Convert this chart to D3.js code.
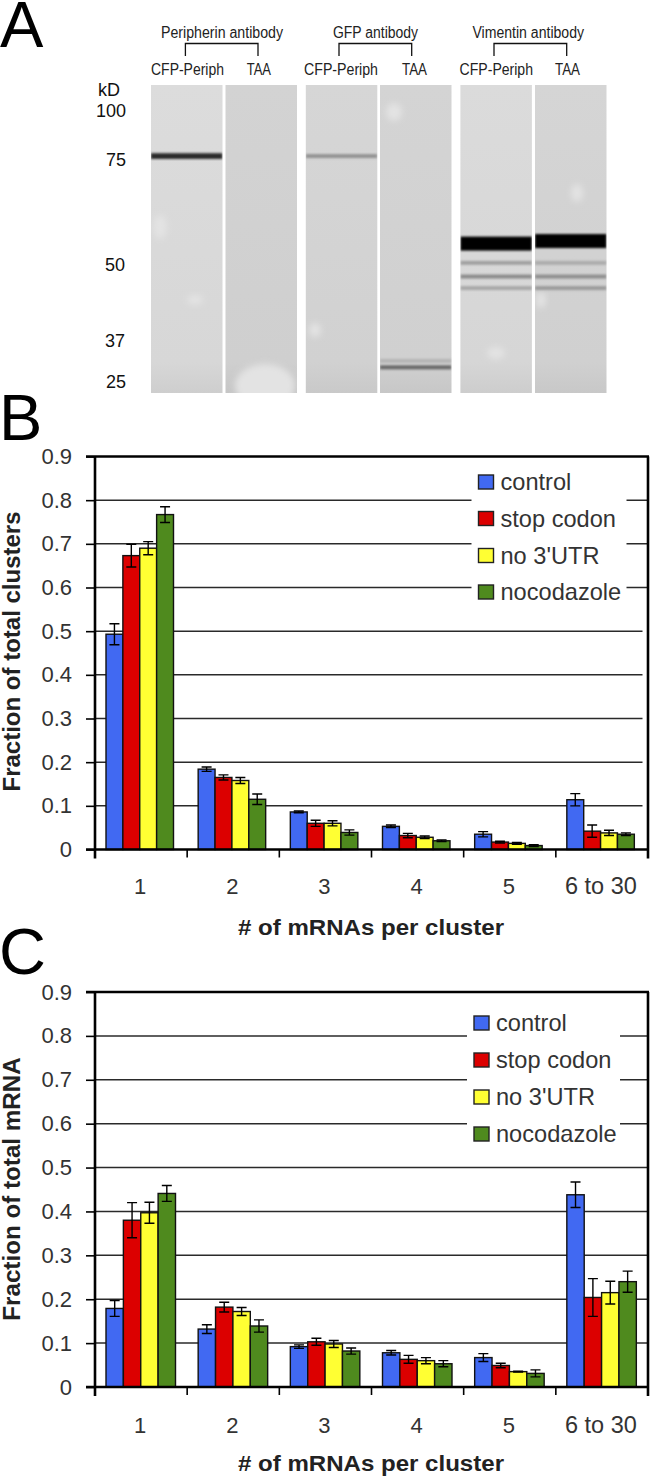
<!DOCTYPE html>
<html><head><meta charset="utf-8">
<script src="https://cdn.jsdelivr.net/npm/d3@7/dist/d3.min.js"></script>
<style>html,body{margin:0;padding:0;background:#fff}svg{display:block}text{font-family:"Liberation Sans",Arial,sans-serif}</style>
</head><body><svg id="c" width="650" height="1477"></svg>
<script>
// ---------- data ----------
const categories = ["1","2","3","4","5","6 to 30"];
const seriesNames = ["control","stop codon","no 3'UTR","nocodazole"];
const yTicks = [0,0.1,0.2,0.3,0.4,0.5,0.6,0.7,0.8,0.9];

const clustersControl    = [0.493,0.184,0.086,0.053,0.035,0.114];
const clustersStop       = [0.673,0.165,0.060,0.032,0.017,0.042];
const clustersNoUTR      = [0.690,0.158,0.060,0.028,0.014,0.038];
const clustersNocodazole = [0.767,0.115,0.039,0.020,0.009,0.035];
const clustersControlErr    = [0.024,0.005,0.002,0.003,0.006,0.014];
const clustersStopErr       = [0.026,0.006,0.007,0.005,0.002,0.014];
const clustersNoUTRErr      = [0.015,0.007,0.006,0.003,0.002,0.006];
const clustersNocodazoleErr = [0.018,0.012,0.006,0.002,0.002,0.003];

const mrnaControl    = [0.179,0.132,0.092,0.078,0.067,0.438];
const mrnaStop       = [0.380,0.182,0.103,0.063,0.049,0.204];
const mrnaNoUTR      = [0.397,0.172,0.098,0.060,0.035,0.215];
const mrnaNocodazole = [0.441,0.139,0.082,0.053,0.031,0.240];
const mrnaControlErr    = [0.018,0.010,0.004,0.005,0.009,0.029];
const mrnaStopErr       = [0.040,0.011,0.008,0.009,0.005,0.043];
const mrnaNoUTRErr      = [0.024,0.009,0.008,0.007,0.001,0.026];
const mrnaNocodazoleErr = [0.018,0.014,0.007,0.007,0.008,0.024];

const kdLabels = [100,75,50,37,25];
const laneAntibody = ["Peripherin antibody","GFP antibody","Vimentin antibody"];
const laneNames = ["CFP-Periph","TAA"];
const bandLane = [0,2,3,3,4,5,4,5,4,5,4,5];
const bandKd = [76,76,29,30.9,55,55.6,50.5,50.5,48,48,46,46];
const bandIntensity = [0.8,0.3,0.5,0.14,1,1,0.24,0.18,0.34,0.32,0.2,0.26];

// ---------- setup ----------
const svg = d3.select("#c");
const defs = svg.append("defs");
defs.append("filter").attr("id","soft").attr("x","-5%").attr("width","110%").attr("y","-150%").attr("height","400%")
  .append("feGaussianBlur").attr("stdDeviation",1);
defs.append("filter").attr("id","blotch").attr("x","-40%").attr("width","180%").attr("y","-40%").attr("height","180%")
  .append("feGaussianBlur").attr("stdDeviation",3);
const colors = ["#4169f2","#dc0000","#ffff33","#4f8a1e"];

function letter(t,x,y){
  svg.append("text").attr("x",x).attr("y",y).attr("font-size",65).attr("fill","#000").text(t);
}
letter("A",0,47); letter("B",-1,440); letter("C",-1,974);

// ---------- panel A ----------
const A = svg.append("g");
const laneLeft = [151,225.5,305.8,380,460.4,535];
const laneWidth = 71.5, blotTop = 85, blotBottom = 393;
const laneFill = ["#dcdcdc","#d3d3d3","#d6d6d6","#d4d4d4","#dbdbdb","#d5d5d5"];
const kdY = d3.scaleLinear().domain(kdLabels).range([110,158,265,340,381]);
const thick = d3.scalePow().exponent(8).domain([0,1]).range([4,14]);
const tone = d3.scaleLinear().domain([0,1]).range(["#d2d2d2","#000"]);

laneLeft.forEach((x,i)=>{
  const gid="lg"+i;
  const g=defs.append("linearGradient").attr("id",gid).attr("x1",0).attr("x2",0).attr("y1",0).attr("y2",1);
  g.append("stop").attr("offset","0").attr("stop-color",laneFill[i]);
  g.append("stop").attr("offset","0.9").attr("stop-color",d3.color(laneFill[i]).darker(0.06));
  g.append("stop").attr("offset","1").attr("stop-color",d3.color(laneFill[i]).darker(0.18));
  A.append("rect").attr("x",x).attr("y",blotTop).attr("width",laneWidth).attr("height",blotBottom-blotTop).attr("fill",`url(#${gid})`);
});
const cp=defs.append("clipPath").attr("id","lanes");
laneLeft.forEach(x=>cp.append("rect").attr("x",x).attr("y",blotTop).attr("width",laneWidth).attr("height",blotBottom-blotTop));
const inLanes=A.append("g").attr("clip-path","url(#lanes)");
// pale blotches on the membrane
[[265,386,30,22],[160,227,7,12],[195,300,8,5],[394,112,8,9],[315,330,6,7],[496,353,9,6],[541,300,5,8],[577,193,6,9]].forEach(b=>
  inLanes.append("ellipse").attr("cx",b[0]).attr("cy",b[1]).attr("rx",b[2]).attr("ry",b[3]).attr("fill","#e3e3e3").attr("filter","url(#blotch)"));
inLanes.selectAll("rect.band").data(bandLane).join("rect").attr("class","band")
  .attr("x",d=>laneLeft[d]).attr("width",laneWidth)
  .attr("y",(d,i)=>kdY(bandKd[i])-thick(bandIntensity[i])/2)
  .attr("height",(d,i)=>thick(bandIntensity[i]))
  .attr("fill",(d,i)=>tone(bandIntensity[i]))
  .attr("filter","url(#soft)");

const kdBase=[116.7,165.7,270.7,346.7,387.7], kdRight=[126,126,125,125,126];
kdLabels.forEach((k,i)=>A.append("text").attr("x",kdRight[i]).attr("y",kdBase[i]).attr("text-anchor","end").attr("font-size",18).attr("fill","#111").text(k));
A.append("text").attr("x",98).attr("y",96).attr("font-size",18).attr("fill","#111").text("kD");

function fit(t,x0,x1,y,fs){
  A.append("text").attr("x",x0).attr("y",y).attr("font-size",fs).attr("fill","#222")
   .attr("textLength",x1-x0).attr("lengthAdjust","spacingAndGlyphs").text(t);
}
const abX=[[161,283],[333,418],[472.5,584]];
const bracket=[[185.4,258],[339,411.7],[494,566.7]];
const cfpX=[[151,224],[304,378],[459.6,533]];
const taaX=[[246.7,271],[402,427],[555,580]];
laneAntibody.forEach((t,i)=>{
  fit(t,abX[i][0],abX[i][1],37.5,16);
  A.append("path").attr("d",`M${bracket[i][0]},56V43.5H${bracket[i][1]}V56`).attr("fill","none").attr("stroke","#111").attr("stroke-width",1.3);
  fit(laneNames[0],cfpX[i][0],cfpX[i][1],74.5,16);
  fit(laneNames[1],taaX[i][0],taaX[i][1],74.5,16);
});

// ---------- bar panels ----------
function barPanel(o){
  const g=svg.append("g");
  const x=d3.scaleBand().domain(categories).range([95,648]);
  const y=d3.scaleLinear().domain([0,0.9]).range([o.y0,o.y9]);
  const sub=d3.scaleBand().domain(seriesNames).range([11,o.subEnd]);

  const axis=g.append("g").attr("transform","translate(95,0)")
    .call(d3.axisLeft(y).tickValues(yTicks).tickSize(9).tickPadding(14).tickFormat(d=>d===0?"0":d3.format(".1f")(d)));
  axis.select(".domain").remove();
  axis.selectAll("line").attr("stroke","#000").attr("stroke-width",1.6);
  axis.selectAll("text").attr("font-size",22).attr("fill","#333").attr("font-family",'"Liberation Sans",Arial,sans-serif');
  const grid=g.append("g");
  grid.selectAll("line").data(yTicks.filter(d=>d>0&&d<0.9)).join("line")
    .attr("x1",95).attr("x2",d=>d>=o.longFrom?647:o.gridEnd)
    .attr("y1",d=>y(d)).attr("y2",d=>y(d)).attr("stroke","#2a2a2a").attr("stroke-width",1.5);

  g.append("rect").attr("x",o.legX-7).attr("y",o.y9+3).attr("width",o.legW).attr("height",o.legH).attr("fill","#fff");

  categories.forEach((c,ci)=>{
    o.values.forEach((vals,si)=>{
      const bx=x(c)+sub(seriesNames[si]), bw=sub.bandwidth();
      g.append("rect").attr("x",bx).attr("y",y(vals[ci])).attr("width",bw).attr("height",o.y0-y(vals[ci]))
        .attr("fill",colors[si]).attr("stroke","#111").attr("stroke-width",1.4);
    });
  });
  categories.forEach((c,ci)=>{
    o.values.forEach((vals,si)=>{
      const cx=x(c)+sub(seriesNames[si])+sub.bandwidth()/2, e=o.errors[si][ci], v=vals[ci];
      g.append("path").attr("d",`M${cx-5},${y(v+e)}H${cx+5}M${cx},${y(v+e)}V${y(v-e)}M${cx-5},${y(v-e)}H${cx+5}`)
        .attr("fill","none").attr("stroke","#000").attr("stroke-width",1.4);
    });
  });

  g.append("line").attr("x1",86).attr("x2",649).attr("y1",o.y9).attr("y2",o.y9).attr("stroke","#000").attr("stroke-width",2.6);
  g.append("line").attr("x1",95).attr("x2",95).attr("y1",o.y9).attr("y2",o.y0+9).attr("stroke","#000").attr("stroke-width",2.6);
  g.append("line").attr("x1",648).attr("x2",648).attr("y1",o.y9).attr("y2",o.y0+9).attr("stroke","#000").attr("stroke-width",2.6);
  g.append("line").attr("x1",86).attr("x2",649).attr("y1",o.y0).attr("y2",o.y0).attr("stroke","#000").attr("stroke-width",2.6);
  categories.slice(1).forEach(c=>g.append("line").attr("x1",x(c)).attr("x2",x(c)).attr("y1",o.y0).attr("y2",o.y0+8).attr("stroke","#000").attr("stroke-width",1.6));

  g.selectAll("text.cat").data(categories).join("text").attr("class","cat")
    .attr("x",d=>x(d)+x.bandwidth()/2-1).attr("y",o.catY).attr("text-anchor","middle")
    .attr("font-size",d=>d.length>1?23.5:22).attr("fill","#333").text(d=>d);
  g.append("text").attr("x",371).attr("y",o.titleY).attr("text-anchor","middle").attr("font-size",22)
    .attr("font-weight","bold").attr("fill","#222").attr("textLength",266).attr("lengthAdjust","spacingAndGlyphs").text("# of mRNAs per cluster");
  g.append("text").attr("transform",`translate(20,${o.yTitleC}) rotate(-90)`).attr("text-anchor","middle")
    .attr("font-size",23).attr("font-weight",o.yBold).attr("fill","#222")
    .attr("textLength",o.yTitleL).attr("lengthAdjust","spacingAndGlyphs").text(o.yTitle);

  seriesNames.forEach((s,i)=>{
    g.append("rect").attr("x",o.legX).attr("y",o.legY[i]-7).attr("width",15).attr("height",14)
      .attr("fill",colors[i]).attr("stroke","#222").attr("stroke-width",1.4);
    g.append("text").attr("x",o.legX+22).attr("y",o.legY[i]+8).attr("font-size",23.6).attr("fill","#333").text(s);
  });
}

barPanel({y0:849.5,y9:456.5,subEnd:78.5,gridEnd:642.5,longFrom:0.55,
  values:[clustersControl,clustersStop,clustersNoUTR,clustersNocodazole],
  errors:[clustersControlErr,clustersStopErr,clustersNoUTRErr,clustersNocodazoleErr],
  legX:478.5,legY:[482,518.5,555.5,592],legW:155,legH:132,
  catY:894,titleY:935,yTitle:"Fraction of total clusters",yTitleC:651.5,yTitleL:280,yBold:"bold"});
barPanel({y0:1387,y9:992,subEnd:80.5,gridEnd:647,longFrom:0,
  values:[mrnaControl,mrnaStop,mrnaNoUTR,mrnaNocodazole],
  errors:[mrnaControlErr,mrnaStopErr,mrnaNoUTRErr,mrnaNocodazoleErr],
  legX:474,legY:[1023,1060,1097,1134],legW:153,legH:133,
  catY:1433,titleY:1471,yTitle:"Fraction of total mRNA",yTitleC:1189,yTitleL:263.5,yBold:"bold"});
</script></body></html>
